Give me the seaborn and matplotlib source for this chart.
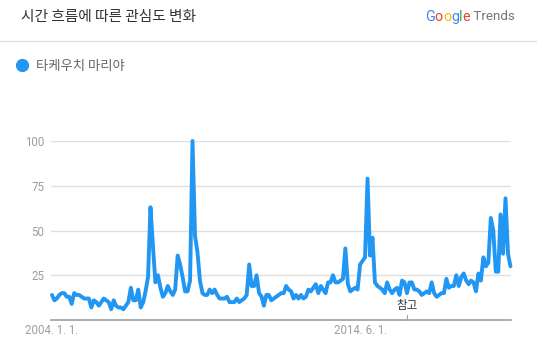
import numpy as np
import pandas as pd
import matplotlib
matplotlib.use("Agg")
import matplotlib.pyplot as plt
from matplotlib.lines import Line2D
import seaborn as sns

# ---- data ----
series_name = "타케우치 마리야"
start_month = "2004-01-01"
interest = [
    14, 11, 12, 14, 15, 15, 13, 13, 9, 15,
    14, 14, 13, 12, 12, 12, 7, 11, 10, 8,
    10, 12, 11, 10, 6, 11, 8, 7, 7, 6,
    8, 10, 18, 11, 11, 17, 7, 10, 16, 24,
    63, 41, 21, 25, 18, 13, 15, 19, 16, 14,
    17, 36, 31, 24, 16, 16, 22, 100, 47, 38,
    22, 15, 14, 14, 17, 15, 17, 14, 12, 12,
    12, 13, 10, 10, 10, 12, 10, 11, 12, 14,
    31, 19, 19, 25, 15, 13, 8, 14, 14, 11,
    12, 13, 14, 15, 15, 19, 17, 16, 12, 14,
    12, 14, 12, 13, 17, 16, 18, 20, 15, 19,
    17, 15, 21, 21, 25, 21, 21, 22, 23, 40,
    20, 16, 17, 18, 17, 31, 33, 35, 79, 36,
    46, 21, 19, 18, 17, 15, 21, 17, 15, 17,
    18, 14, 22, 21, 15, 21, 21, 17, 17, 16,
    14, 15, 16, 15, 21, 15, 13, 14, 15, 15,
    23, 18, 19, 19, 25, 19, 24, 26, 22, 20,
    22, 21, 16, 26, 22, 35, 30, 32, 57, 50,
    27, 27, 59, 37, 68, 37, 30,
]
y_ticks = [25, 50, 75, 100]
x_tick_dates = ["2004-01-01", "2014-06-01"]
x_tick_labels = ["2004. 1. 1.", "2014. 6. 1."]
note_date = "2016-01-01"
note_text = "참고"
title_text = "시간 흐름에 따른 관심도 변화"

dates = pd.date_range(start_month, periods=len(interest), freq="MS")
df = pd.DataFrame({"date": dates, "value": interest})

# ---- figure ----
W, H = 537, 347
sns.set_style("white")
KR = ["Noto Sans CJK KR", "DejaVu Sans"]
plt.rcParams["font.family"] = ["Roboto", "Noto Sans CJK KR", "DejaVu Sans"]

fig = plt.figure(figsize=(W / 100, H / 100), dpi=100)
ax = fig.add_axes([51 / W, 1 - 320 / H, (511 - 51) / W, (320 - 141) / H])

sns.lineplot(data=df, x="date", y="value", ax=ax, color="#2196F3",
             linewidth=2.8, clip_on=False)

ax.set_ylim(0, 100)
ax.set_xlim(pd.Timestamp("2003-12-20"), pd.Timestamp("2019-07-08"))
ax.set_yticks(y_ticks)
ax.set_yticklabels([str(t) for t in y_ticks])
ax.set_xticks(pd.to_datetime(x_tick_dates))
ax.set_xticklabels(x_tick_labels)
ax.tick_params(axis="both", length=0, colors="#9e9e9e", labelsize=8.3)
ax.tick_params(axis="y", pad=5)
ax.tick_params(axis="x", pad=3)
ax.set_xlabel("")
ax.set_ylabel("")
ax.grid(axis="y", color="#e0e0e0", linewidth=1)
ax.grid(axis="x", visible=False)
for s in ["top", "right", "left"]:
    ax.spines[s].set_visible(False)
ax.spines["bottom"].set_color("#9e9e9e")
ax.spines["bottom"].set_linewidth(1.2)
ax.set_axisbelow(True)

# note marker
nd = pd.Timestamp(note_date)
ax.plot([nd, nd], [0, 3], color="#9e9e9e", linewidth=0.8, clip_on=False)
ax.text(nd, 4.5, note_text, ha="center", va="bottom", fontsize=8.3,
        color="#333333", family=KR)

# ---- header ----
fig.text(21 / W, 1 - 17 / H, title_text, ha="left", va="center",
         fontsize=10.6, color="#333333", family=KR)
fig.add_artist(Line2D([0, 1], [1 - 41 / H, 1 - 41 / H], transform=fig.transFigure,
                      color="#e0e0e0", linewidth=1))

# legend
fig.add_artist(Line2D([22 / W], [1 - 65 / H], transform=fig.transFigure,
                      marker="o", markersize=8.5, color="#2196F3", linestyle="none"))
fig.text(36 / W, 1 - 66 / H, series_name, ha="left", va="center",
         fontsize=9.6, color="#666666", family=KR)

# Google Trends logo text
renderer = fig.canvas.get_renderer()
letters = [("G", "#4285F4", 10.4), ("o", "#EA4335", 10.4), ("o", "#FBBC05", 10.4),
           ("g", "#4285F4", 10.4), ("l", "#34A853", 10.4), ("e", "#EA4335", 10.4),
           (" Trends", "#757575", 9.6)]
x_px = 425
for ch, col, fs in letters:
    t = fig.text(x_px / W, 1 - 17 / H, ch, ha="left", va="center",
                 fontsize=fs, color=col, family="Roboto")
    bb = t.get_window_extent(renderer=renderer)
    x_px += bb.width

fig.savefig("out.png", dpi=100, facecolor="white")
